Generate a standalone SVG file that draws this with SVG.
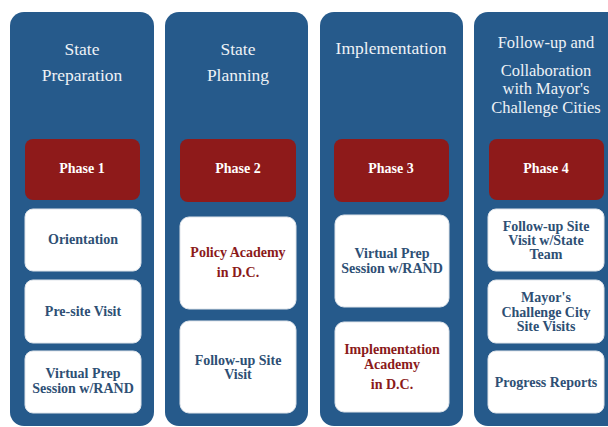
<svg xmlns="http://www.w3.org/2000/svg" width="608" height="427" viewBox="0 0 608 427">
<style>
.col{fill:#265a8b;}
.ph{fill:#8e1a1a;}
.wb{fill:#ffffff;stroke:#dfe4ea;stroke-width:1;}
text{font-family:"Liberation Serif","Times New Roman","DejaVu Serif",serif;text-anchor:middle;}
.hd{fill:#eef2f6;font-size:17.5px;}
.hd4{fill:#eef2f6;font-size:16.5px;}
.pt{fill:#ffffff;font-size:14px;font-weight:bold;}
.bt{fill:#2e4f74;font-size:14px;font-weight:bold;}
.rt{fill:#8b1a1a;font-size:14px;font-weight:bold;}
</style>
<rect width="608" height="427" fill="#ffffff"/>
<g id="col1">
<rect class="col" x="10" y="12" width="144" height="414" rx="14"/>
<text class="hd" x="82" y="55">State</text>
<text class="hd" x="82" y="81">Preparation</text>
</g>
<g id="col2">
<rect class="col" x="165" y="12" width="143" height="414" rx="14"/>
<text class="hd" x="238" y="55">State</text>
<text class="hd" x="238" y="81">Planning</text>
</g>
<g id="col3">
<rect class="col" x="320" y="12" width="143" height="414" rx="14"/>
<text class="hd" x="391" y="54">Implementation</text>
</g>
<g id="col4">
<rect class="col" x="474" y="12" width="150" height="414" rx="14"/>
<text class="hd4" x="546" y="48">Follow-up and</text>
<text class="hd4" x="546" y="75.5">Collaboration</text>
<text class="hd4" x="546" y="94">with Mayor's</text>
<text class="hd4" x="546" y="112.5">Challenge Cities</text>
</g>
<g id="phase1">
<rect class="ph" x="25" y="139" width="115" height="61" rx="8"/>
<text class="pt" x="82" y="173">Phase 1</text>
</g>
<g id="phase2">
<rect class="ph" x="180" y="139" width="116" height="63" rx="8"/>
<text class="pt" x="238" y="173">Phase 2</text>
</g>
<g id="phase3">
<rect class="ph" x="334" y="139" width="115" height="63" rx="8"/>
<text class="pt" x="391" y="173">Phase 3</text>
</g>
<g id="phase4">
<rect class="ph" x="489" y="139" width="115" height="61" rx="8"/>
<text class="pt" x="546" y="173">Phase 4</text>
</g>
<g id="orientation">
<rect class="wb" x="25" y="209" width="116" height="62" rx="8"/>
<text class="bt" x="83" y="244">Orientation</text>
</g>
<g id="presite">
<rect class="wb" x="25" y="280" width="116" height="63" rx="8"/>
<text class="bt" x="83" y="316">Pre-site Visit</text>
</g>
<g id="vprep1">
<rect class="wb" x="25" y="351" width="116" height="62" rx="8"/>
<text class="bt" x="83" y="378">Virtual Prep</text>
<text class="bt" x="83" y="393">Session w/RAND</text>
</g>
<g id="policy">
<rect class="wb" x="180" y="217" width="116" height="92" rx="9"/>
<text class="rt" x="238" y="257">Policy Academy</text>
<text class="rt" x="238" y="277">in D.C.</text>
</g>
<g id="followup2">
<rect class="wb" x="180" y="321" width="116" height="92" rx="9"/>
<text class="bt" x="238" y="365">Follow-up Site</text>
<text class="bt" x="238" y="379">Visit</text>
</g>
<g id="vprep3">
<rect class="wb" x="335" y="215" width="114" height="92" rx="9"/>
<text class="bt" x="392" y="258">Virtual Prep</text>
<text class="bt" x="392" y="273">Session w/RAND</text>
</g>
<g id="implacademy">
<rect class="wb" x="335" y="322" width="114" height="90" rx="9"/>
<text class="rt" x="392" y="354">Implementation</text>
<text class="rt" x="392" y="369">Academy</text>
<text class="rt" x="392" y="389">in D.C.</text>
</g>
<g id="followup4">
<rect class="wb" x="488" y="209" width="116" height="62" rx="8"/>
<text class="bt" x="546" y="231">Follow-up Site</text>
<text class="bt" x="546" y="245">Visit w/State</text>
<text class="bt" x="546" y="259">Team</text>
</g>
<g id="mayors">
<rect class="wb" x="488" y="280" width="116" height="63" rx="8"/>
<text class="bt" x="546" y="302">Mayor's</text>
<text class="bt" x="546" y="317">Challenge City</text>
<text class="bt" x="546" y="331">Site Visits</text>
</g>
<g id="progress">
<rect class="wb" x="488" y="351" width="116" height="62" rx="8"/>
<text class="bt" x="546" y="387">Progress Reports</text>
</g>
<g id="connectors"></g>
</svg>
